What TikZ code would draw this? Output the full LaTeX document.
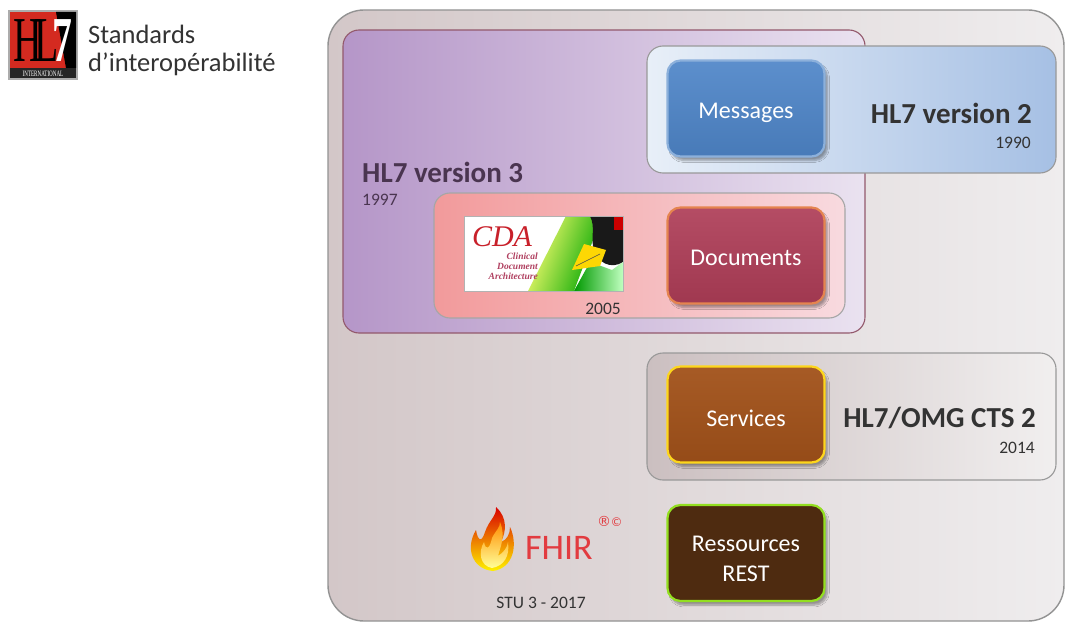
\documentclass[tikz,border=0pt]{standalone}
\usepackage{fontspec}
\setmainfont{Carlito}
\newfontfamily\serifit{Liberation Serif}
\newfontfamily\symfont{DejaVu Sans}
\usetikzlibrary{shadows.blur}

\definecolor{txtdark}{HTML}{333333}
\definecolor{vthree}{HTML}{4A3550}
\definecolor{fhirred}{HTML}{E23B40}
\definecolor{outerL}{HTML}{D3C7C8}
\definecolor{outerR}{HTML}{EFEDEE}
\definecolor{purpL}{HTML}{B596C8}
\definecolor{purpR}{HTML}{EAE2F0}
\definecolor{blueL}{HTML}{E8EFF8}
\definecolor{blueR}{HTML}{A6C0E4}
\definecolor{pinkL}{HTML}{F29A9B}
\definecolor{pinkR}{HTML}{F8DADF}
\definecolor{greyL}{HTML}{CBBFC0}
\definecolor{greyR}{HTML}{F1EFEF}
\definecolor{msgC}{HTML}{4E85C8}
\definecolor{docC}{HTML}{AE3D57}
\definecolor{srvC}{HTML}{A2521A}
\definecolor{resC}{HTML}{4E2B10}
\definecolor{cdared}{HTML}{C8202A}
\definecolor{cdasmall}{HTML}{B04060}
\definecolor{logored}{HTML}{D42A20}

\tikzset{
  panel/.style={line width=1.1pt, rounded corners=16pt},
  btn/.style={rounded corners=13pt, line width=2.2pt,
    minimum width=157pt, minimum height=96pt, inner sep=0pt,
    blur shadow={shadow xshift=3pt, shadow yshift=-4pt, shadow blur steps=8, shadow opacity=35}},
  btntext/.style={text=white, align=center, inner sep=0pt,
    font=\fontsize{24}{30}\selectfont},
  title/.style={font=\fontsize{29}{32}\selectfont\bfseries, text=txtdark, inner sep=0pt},
  year/.style={font=\fontsize{17.5}{20}\selectfont, text=txtdark, inner sep=0pt}
}

\begin{document}
\begin{tikzpicture}[x=1pt,y=-1pt]
\useasboundingbox (0,0) rectangle (1066,623);
\fill[white] (0,0) rectangle (1066,623);

% ---- HL7 logo and heading ----
\fill[gray!65] (8,10) rectangle (78,80);
\fill[logored] (10,12) rectangle (76,68);
\fill[black] (56,12) -- (76,12) -- (76,68) -- (66,68) -- cycle;
\fill[black!85] (10,68) rectangle (76,78);
% letters of the logo: "HL7" above, "INTERNATIONAL" in the bottom band
\node[font=\serifit\fontsize{8.2}{14.5}\selectfont, xscale=0.62, inner sep=0, align=center, anchor=north] (hlmark) at (43,19.5)
  {{\fontsize{64}{64}\selectfont H\kern-13pt L\kern-9pt\textcolor{white}{\bfseries 7}}\\
   \textcolor{white}{INTERNATIONAL}};
\node[anchor=west, font=\fontsize{26.5}{30}\selectfont, text=txtdark, inner sep=0] (head1) at (88,34) {Standards};
\node[anchor=west, font=\fontsize{26.5}{30}\selectfont, text=txtdark, inner sep=0] (head2) at (88,64) {d’interopérabilité};

% ---- outer frame ----
\shade[left color=outerL, right color=outerR, rounded corners=36pt, draw=gray!85, line width=1.4pt]
  (328,10) rectangle (1064,621);

% ---- HL7 version 3 panel ----
\shade[panel, draw=gray!70!purple, left color=purpL, right color=purpR] (343,30) rectangle (865,333);
\node[title, text=vthree, anchor=west] (v3) at (362,172) {HL7 version 3};
\node[year, text=vthree, anchor=west] (v3y) at (362,200) {1997};

% ---- HL7 version 2 panel ----
\shade[panel, draw=gray!80, left color=blueL, right color=blueR] (647,46) rectangle (1056,173);
\node[title, anchor=east] (v2) at (1032,113) {HL7 version 2};
\node[year, anchor=east] (v2y) at (1031,143) {1990};

% ---- CDA panel ----
\shade[panel, draw=gray!70, left color=pinkL, right color=pinkR] (434,193) rectangle (845,318);
\node[year] (cday) at (603,309) {2005};

% CDA logo
\begin{scope}
  \clip (464,216) rectangle (623,291);
  \fill[white] (464,216) rectangle (623,291);
  \shade[left color=yellow!55!white, right color=green!65!black, shading angle=70]
    (528,291) -- (566,216) -- (602,216) -- (574,291) -- cycle;
  \fill[black!90] (590,216) -- (623,216) -- (623,262)
    .. controls (610,270) and (598,262) .. (594,250)
    .. controls (590,238) and (596,228) .. (590,216) -- cycle;
  \shade[left color=green!60!black, right color=green!25!white]
    (574,291) -- (590,262) -- (612,270) -- (623,262) -- (623,291) -- cycle;
  \fill[red!80!black] (614,216) rectangle (623,230);
  \fill[yellow!75!orange] (572,270) -- (584,244) -- (606,250) -- (600,266) -- cycle;
  \draw[black!70, line width=0.6pt] (576,266) -- (600,254);
\end{scope}
\draw[gray!60, line width=0.5pt] (464,216) rectangle (623,291);
\node[font=\serifit\itshape\fontsize{30}{30}\selectfont, text=cdared, inner sep=0] (cdatxt) at (502,237) {CDA};
\node[font=\serifit\itshape\bfseries\fontsize{9.5}{10}\selectfont, text=cdasmall, align=right, anchor=east, inner sep=0]
  (cdasub) at (538,266) {Clinical\\Document\\Architecture};

% ---- CTS 2 panel ----
\shade[panel, draw=gray!80, left color=greyL, right color=greyR] (647,353) rectangle (1056,480);
\node[title, anchor=east] (cts) at (1036,418) {HL7/OMG CTS 2};
\node[year, anchor=east] (ctsy) at (1035,448) {2014};

% ---- buttons ----
\node[btn, draw=msgC!65!white, top color=msgC!92!white, bottom color=msgC!92!black] (msg) at (746,108.5) {};
\node[btntext] (msgt) at (746,113) {Messages};
\node[btn, draw=orange!60!docC!80!white, top color=docC!92!white, bottom color=docC!92!black] (doc) at (746,255.5) {};
\node[btntext] (doct) at (746,258) {Documents};
\node[btn, draw=yellow!70!orange!90!white, top color=srvC!95!white, bottom color=srvC!92!black] (srv) at (746,414.5) {};
\node[btntext] (srvt) at (746,418) {Services};
\node[btn, draw=green!40!yellow!75!gray, fill=resC] (res) at (746,553) {};
\node[btntext] (rest) at (746,559) {Ressources\\REST};

% ---- FHIR logo ----
\shade[top color=red!85!black, bottom color=yellow!90!orange]
  (493,571) .. controls (472,569) and (465,548) .. (476,530)
  .. controls (478,542) and (482,542) .. (485,532)
  .. controls (489,520) and (497,516) .. (496,507)
  .. controls (508,518) and (506,532) .. (501,542)
  .. controls (507,540) and (510,534) .. (510,527)
  .. controls (518,544) and (514,568) .. (493,571) -- cycle;
\shade[top color=orange!90!yellow, bottom color=yellow!40!white]
  (492,568) .. controls (480,566) and (478,552) .. (484,542)
  .. controls (486,552) and (490,548) .. (492,538)
  .. controls (496,530) and (500,528) .. (500,522)
  .. controls (506,536) and (500,548) .. (498,556)
  .. controls (504,552) and (507,548) .. (508,542)
  .. controls (510,556) and (504,566) .. (492,568) -- cycle;
\node[font=\fontsize{36}{36}\selectfont, text=fhirred, anchor=west, inner sep=0] (fhir) at (525,548) {FHIR};
\node[font=\symfont\fontsize{12}{12}\selectfont, text=fhirred, anchor=west, inner sep=0] (fhirmk) at (597,521) {{\fontsize{14}{14}\selectfont ®}\kern-0.5pt©};
\node[font=\fontsize{17.5}{20}\selectfont, text=txtdark, inner sep=0] (stu) at (541,603) {STU 3 - 2017};

\end{tikzpicture}
\end{document}
